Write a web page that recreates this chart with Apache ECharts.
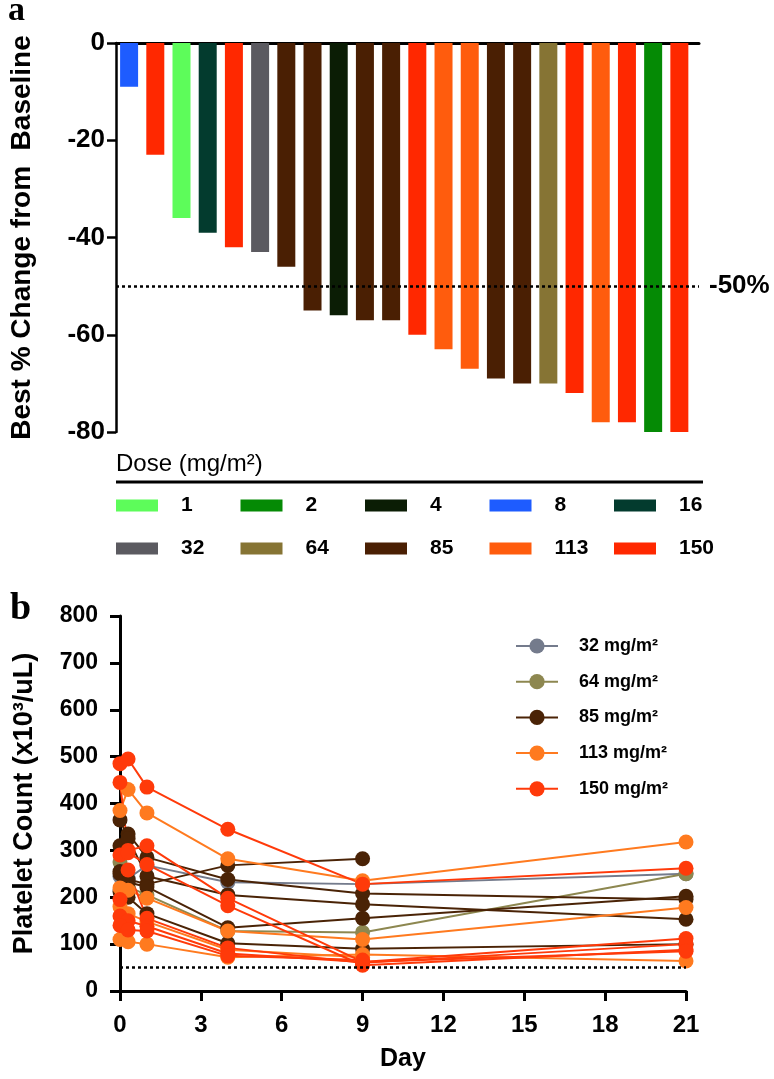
<!DOCTYPE html>
<html>
<head>
<meta charset="utf-8">
<script src="https://cdn.jsdelivr.net/npm/echarts@6/dist/echarts.min.js"></script>
<style>
html,body{margin:0;padding:0;background:#fff;}
#chart{width:774px;height:1079px;}
</style>
</head>
<body>
<div id="chart"></div>
<script>
// ---------- Panel a: waterfall ----------
const barDoses  = [8,150,1,16,150,32,85,85,4,85,85,150,113,113,85,85,64,150,113,150,2,150];
const barValues = [-9,-23,-36,-39,-42,-43,-46,-55,-56,-57,-57,-60,-63,-67,-69,-70,-70,-72,-78,-78,-80,-80];
const doseLevels = [1,2,4,8,16,32,64,85,113,150];
const doseColors = ['#5dfc5a','#058a05','#0b1d05','#1e5cff','#033b2e','#5b5a60','#867434','#4a1f03','#ff5c0d','#ff2800'];
const thresholdA = -50;

// ---------- Panel b: platelet counts ----------
const days = [0, 0.3, 1, 4, 9, 21];
const lineDoses = [32,64,85,85,85,85,85,113,113,113,113,150,150,150,150,150,150];
const lineCounts = [
  [245,240,268,232,228,250],
  [275,222,205,128,125,250],
  [255,238,228,268,282,null],
  [310,335,285,238,208,195],
  [365,325,245,205,185,153],
  [250,232,222,135,155,202],
  [212,200,165,102,90,100],
  [385,430,380,282,235,318],
  [220,215,198,128,110,178],
  [110,105,100,72,78,64],
  [180,165,148,88,72,null],
  [485,495,435,345,228,262],
  [445,300,310,198,62,112],
  [290,295,270,182,55,88],
  [195,258,155,92,60,100],
  [160,150,138,80,62,85],
  [140,130,128,75,66,null]
];
const lineGroups = [32,64,85,113,150];
const lineColors = ['#747b8c','#8d8750','#4a2306','#ff7a1f','#ff3a0a'];
const thresholdB = 50;

const FONT = '"Liberation Sans", Arial, Helvetica, sans-serif';
const chart = echarts.init(document.getElementById('chart'), null, {renderer:'canvas'});

const series = [];
doseLevels.forEach((d, k) => {
  const data = [];
  barValues.forEach((v, i) => { if (barDoses[i] === d) data.push([i, v]); });
  const s = {
    name: String(d), type: 'bar', xAxisIndex: 0, yAxisIndex: 0,
    barWidth: 18, barGap: '-100%', data: data,
    itemStyle: {color: doseColors[k]}
  };
  if (k === 0) {
    s.markLine = {
      silent: true, symbol: 'none',
      lineStyle: {type: [3,3], color: '#000', width: 2.5},
      label: {position: 'end', formatter: '-50%', fontSize: 26, fontWeight: 'bold', color: '#000', distance: 10, fontFamily: FONT},
      data: [{yAxis: thresholdA}]
    };
  }
  series.push(s);
});

lineCounts.forEach((vals, p) => {
  const g = lineGroups.indexOf(lineDoses[p]);
  const data = [];
  vals.forEach((v, j) => { if (v !== null) data.push([days[j], v]); });
  const s = {
    name: lineDoses[p] + ' mg/m²', type: 'line', xAxisIndex: 1, yAxisIndex: 1,
    data: data, symbol: 'circle', symbolSize: 15,
    lineStyle: {width: 2, color: lineColors[g]},
    itemStyle: {color: lineColors[g]}
  };
  if (p === 0) {
    s.markLine = {
      silent: true, symbol: 'none',
      lineStyle: {type: [3,3], color: '#000', width: 2.5},
      label: {show: false},
      data: [{yAxis: thresholdB}]
    };
  }
  series.push(s);
});

const legends = doseLevels.map((d, i) => ({
  data: [String(d)],
  left: 116 + (i % 5) * 124.5,
  top: (i < 5 ? 507 : 550) - 12,
  itemWidth: 42, itemHeight: 12, icon: 'rect', padding: 0,
  textStyle: {fontSize: 21, fontWeight: 'bold', color: '#000', padding: [0,0,0,18], fontFamily: FONT}
}));
legends.push({
  data: lineGroups.map(d => d + ' mg/m²'),
  orient: 'vertical', left: 515, top: 637,
  itemWidth: 42, itemHeight: 19, itemGap: 17.7, padding: 0,
  textStyle: {fontSize: 18, fontWeight: 'bold', color: '#000', padding: [0,0,0,16], fontFamily: FONT}
});

const axisTxt = {color: '#000', fontWeight: 'bold', fontFamily: FONT};

const option = {
  animation: false,
  backgroundColor: '#fff',
  title: [
    {text: 'a', left: 8, top: -6, padding: 0, textStyle: {fontFamily: '"Liberation Serif", "Times New Roman", serif', fontWeight: 'bold', fontSize: 34, color: '#000'}},
    {text: 'b', left: 10, top: 590, padding: 0, textStyle: {fontFamily: '"Liberation Serif", "Times New Roman", serif', fontWeight: 'bold', fontSize: 38, color: '#000'}}
  ],
  legend: legends,
  grid: [
    {left: 112, top: 43, width: 587, height: 389},
    {left: 120, top: 616, width: 566, height: 375}
  ],
  xAxis: [
    {gridIndex: 0, type: 'value', min: -0.5, max: 21.75, position: 'top',
     axisLine: {show: true, onZero: false, lineStyle: {color: '#000', width: 3}},
     axisTick: {show: false}, axisLabel: {show: false}, splitLine: {show: false}},
    {gridIndex: 1, type: 'value', min: 0, max: 21, interval: 3,
     axisLine: {show: true, onZero: false, lineStyle: {color: '#000', width: 3}},
     axisTick: {show: true, length: 10, lineStyle: {color: '#000', width: 3}},
     axisLabel: Object.assign({fontSize: 24, margin: 22}, axisTxt),
     splitLine: {show: false},
     name: 'Day', nameLocation: 'middle', nameGap: 56,
     nameTextStyle: Object.assign({fontSize: 25}, axisTxt)}
  ],
  yAxis: [
    {gridIndex: 0, type: 'value', min: -80, max: 0, interval: 20,
     axisLine: {show: true, onZero: false, lineStyle: {color: '#000', width: 2.5}},
     axisTick: {show: true, length: 9, lineStyle: {color: '#000', width: 2.5}},
     axisLabel: Object.assign({fontSize: 26, margin: 11}, axisTxt),
     splitLine: {show: false},
     name: 'Best % Change from  Baseline', nameLocation: 'middle', nameGap: 80,
     nameTextStyle: Object.assign({fontSize: 28}, axisTxt)},
    {gridIndex: 1, type: 'value', min: 0, max: 800, interval: 100,
     axisLine: {show: true, onZero: false, lineStyle: {color: '#000', width: 3}},
     axisTick: {show: true, length: 10, lineStyle: {color: '#000', width: 3}},
     axisLabel: Object.assign({fontSize: 23, margin: 22}, axisTxt),
     splitLine: {show: false},
     name: 'Platelet Count (x10³/uL)', nameLocation: 'middle', nameGap: 82,
     nameTextStyle: Object.assign({fontSize: 27}, axisTxt)}
  ],
  graphic: [
    {type: 'text', left: 116, top: 452, style: {text: 'Dose (mg/m²)', fontSize: 24, fontFamily: FONT, fill: '#000'}},
    {type: 'line', shape: {x1: 116, y1: 482, x2: 703, y2: 482}, style: {stroke: '#000', lineWidth: 3}}
  ],
  series: series
};
chart.setOption(option);
</script>
</body>
</html>
